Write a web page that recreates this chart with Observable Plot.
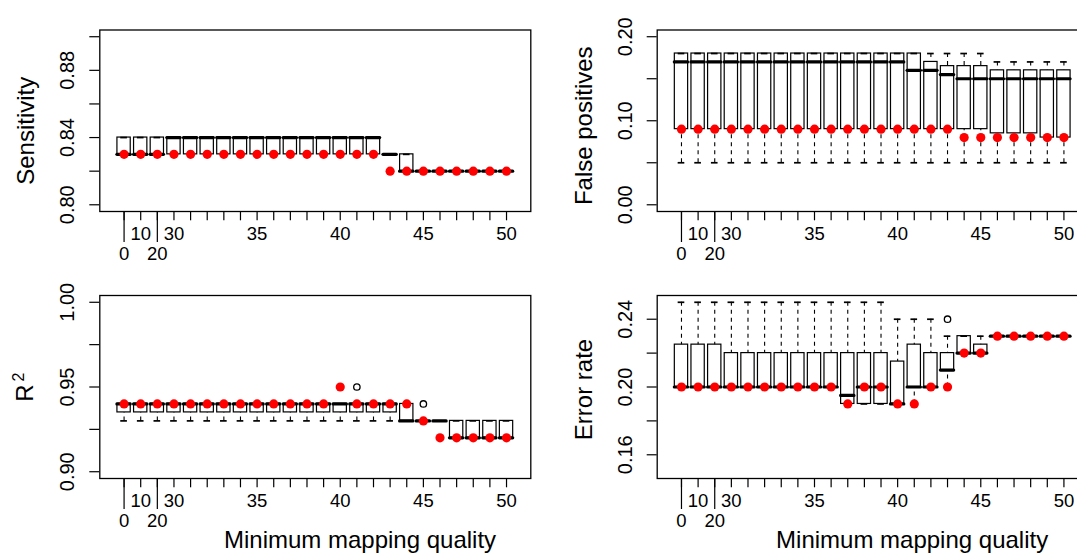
<!DOCTYPE html>
<html><head><meta charset="utf-8">
<script src="https://cdn.jsdelivr.net/npm/d3@7"></script>
<script src="https://cdn.jsdelivr.net/npm/@observablehq/plot@0.6"></script>
<style>
html,body{margin:0;padding:0;background:#fff;overflow:hidden;width:1077px;height:555px;}
#root{position:relative;width:1077px;height:555px;overflow:hidden;background:#fff;}
.panel{position:absolute;}
</style></head><body><div id="root"></div>
<script>
// ---------- data ----------
const categories = ["0","10","20","30","31","32","33","34","35","36","37","38","39","40","41","42","43","44","45","46","47","48","49","50"];
const xLabelsRow1 = ["10","30","35","40","45","50"];
const xLabelsRow2 = ["0","20"];
const longTickCats = ["0","20"];

// Sensitivity
const sensQ1  = [0.83,0.83,0.83,0.83,0.83,0.83,0.83,0.83,0.83,0.83,0.83,0.83,0.83,0.83,0.83,0.83,0.83,0.82,0.82,0.82,0.82,0.82,0.82,0.82];
const sensMed = [0.83,0.83,0.83,0.84,0.84,0.84,0.84,0.84,0.84,0.84,0.84,0.84,0.84,0.84,0.84,0.84,0.83,0.82,0.82,0.82,0.82,0.82,0.82,0.82];
const sensQ3  = [0.84,0.84,0.84,0.84,0.84,0.84,0.84,0.84,0.84,0.84,0.84,0.84,0.84,0.84,0.84,0.84,0.83,0.83,0.82,0.82,0.82,0.82,0.82,0.82];
const sensLo  = [0.83,0.83,0.83,0.83,0.83,0.83,0.83,0.83,0.83,0.83,0.83,0.83,0.83,0.83,0.83,0.83,0.83,0.82,0.82,0.82,0.82,0.82,0.82,0.82];
const sensHi  = [0.84,0.84,0.84,0.84,0.84,0.84,0.84,0.84,0.84,0.84,0.84,0.84,0.84,0.84,0.84,0.84,0.83,0.83,0.82,0.82,0.82,0.82,0.82,0.82];
const sensRed = [0.83,0.83,0.83,0.83,0.83,0.83,0.83,0.83,0.83,0.83,0.83,0.83,0.83,0.83,0.83,0.83,0.82,0.82,0.82,0.82,0.82,0.82,0.82,0.82];
const sensTicks = [0.80,0.82,0.84,0.86,0.88,0.90];
const sensTickLabels = [0.80,0.84,0.88];

// False positives
const fpQ1  = [0.09,0.09,0.09,0.09,0.09,0.09,0.09,0.09,0.09,0.09,0.09,0.09,0.09,0.09,0.09,0.09,0.09,0.09,0.09,0.085,0.085,0.085,0.08,0.08];
const fpMed = [0.17,0.17,0.17,0.17,0.17,0.17,0.17,0.17,0.17,0.17,0.17,0.17,0.17,0.17,0.16,0.16,0.155,0.15,0.15,0.15,0.15,0.15,0.15,0.15];
const fpQ3  = [0.18,0.18,0.18,0.18,0.18,0.18,0.18,0.18,0.18,0.18,0.18,0.18,0.18,0.18,0.18,0.17,0.165,0.165,0.165,0.16,0.16,0.16,0.16,0.16];
const fpLo  = [0.05,0.05,0.05,0.05,0.05,0.05,0.05,0.05,0.05,0.05,0.05,0.05,0.05,0.05,0.05,0.05,0.05,0.05,0.05,0.05,0.05,0.05,0.05,0.05];
const fpHi  = [0.18,0.18,0.18,0.18,0.18,0.18,0.18,0.18,0.18,0.18,0.18,0.18,0.18,0.18,0.18,0.18,0.18,0.18,0.18,0.17,0.17,0.17,0.17,0.17];
const fpRed = [0.09,0.09,0.09,0.09,0.09,0.09,0.09,0.09,0.09,0.09,0.09,0.09,0.09,0.09,0.09,0.09,0.09,0.08,0.08,0.08,0.08,0.08,0.08,0.08];
const fpTicks = [0.00,0.05,0.10,0.15,0.20];
const fpTickLabels = [0.00,0.10,0.20];

// R squared
const r2Q1  = [0.935,0.935,0.935,0.935,0.935,0.935,0.935,0.935,0.935,0.935,0.935,0.935,0.935,0.935,0.935,0.935,0.935,0.93,0.93,0.93,0.92,0.92,0.92,0.92];
const r2Med = [0.94,0.94,0.94,0.94,0.94,0.94,0.94,0.94,0.94,0.94,0.94,0.94,0.94,0.94,0.94,0.94,0.94,0.93,0.93,0.93,0.92,0.92,0.92,0.92];
const r2Q3  = [0.94,0.94,0.94,0.94,0.94,0.94,0.94,0.94,0.94,0.94,0.94,0.94,0.94,0.94,0.94,0.94,0.94,0.94,0.93,0.93,0.93,0.93,0.93,0.93];
const r2Lo  = [0.93,0.93,0.93,0.93,0.93,0.93,0.93,0.93,0.93,0.93,0.93,0.93,0.93,0.93,0.93,0.93,0.93,0.93,0.93,0.93,0.92,0.92,0.92,0.92];
const r2Hi  = [0.94,0.94,0.94,0.94,0.94,0.94,0.94,0.94,0.94,0.94,0.94,0.94,0.94,0.94,0.94,0.94,0.94,0.94,0.93,0.93,0.93,0.93,0.93,0.93];
const r2Red = [0.94,0.94,0.94,0.94,0.94,0.94,0.94,0.94,0.94,0.94,0.94,0.94,0.94,0.95,0.94,0.94,0.94,0.94,0.93,0.92,0.92,0.92,0.92,0.92];
const r2OutCats = ["41","45"];
const r2OutVals = [0.95,0.94];
const r2Ticks = [0.90,0.925,0.95,0.975,1.00];
const r2TickLabels = [0.90,0.95,1.00];

// Error rate
const errQ1  = [0.20,0.20,0.20,0.20,0.20,0.20,0.20,0.20,0.20,0.20,0.19,0.19,0.19,0.19,0.20,0.20,0.21,0.22,0.22,0.23,0.23,0.23,0.23,0.23];
const errMed = [0.20,0.20,0.20,0.20,0.20,0.20,0.20,0.20,0.20,0.20,0.195,0.20,0.20,0.19,0.20,0.20,0.21,0.22,0.22,0.23,0.23,0.23,0.23,0.23];
const errQ3  = [0.225,0.225,0.225,0.22,0.22,0.22,0.22,0.22,0.22,0.22,0.22,0.22,0.22,0.215,0.225,0.22,0.22,0.23,0.225,0.23,0.23,0.23,0.23,0.23];
const errLo  = [0.20,0.20,0.20,0.20,0.20,0.20,0.20,0.20,0.20,0.20,0.19,0.19,0.19,0.19,0.19,0.20,0.20,0.22,0.22,0.23,0.23,0.23,0.23,0.23];
const errHi  = [0.25,0.25,0.25,0.25,0.25,0.25,0.25,0.25,0.25,0.25,0.25,0.25,0.25,0.24,0.24,0.24,0.23,0.23,0.23,0.23,0.23,0.23,0.23,0.23];
const errRed = [0.20,0.20,0.20,0.20,0.20,0.20,0.20,0.20,0.20,0.20,0.19,0.20,0.20,0.19,0.19,0.20,0.20,0.22,0.22,0.23,0.23,0.23,0.23,0.23];
const errOutCats = ["43"];
const errOutVals = [0.24];
const errTicks = [0.16,0.18,0.20,0.22,0.24];
const errTickLabels = [0.16,0.20,0.24];

const xTitle = "Minimum mapping quality";

// ---------- drawing ----------
const FONT = "'Liberation Sans', Arial, Helvetica, sans-serif";
const posOf = c => categories.indexOf(c) + 1;
const positions = categories.map((c, i) => i + 1);
const centered = {textAnchor: "middle", lineAnchor: "middle"};

function makePanel(cfg) {
  const rows = categories.map((c, i) => ({
    pos: i + 1, q1: cfg.q1[i], med: cfg.med[i], q3: cfg.q3[i],
    lo: cfg.lo[i], hi: cfg.hi[i], red: cfg.red[i]
  }));
  const outs = (cfg.outCats || []).map((c, i) => ({pos: posOf(c), v: cfg.outVals[i]}));
  const n = categories.length;
  const xr = n * 0.04;
  const yr = (cfg.ylim[1] - cfg.ylim[0]) * 0.04;
  const half = 0.4, staple = 0.2;
  const fmt = d3.format(".2f");
  const marks = [
    // boxes
    Plot.rect(rows, {x1: d => d.pos - half, x2: d => d.pos + half, y1: "q1", y2: "q3",
      fill: "white", stroke: "black", strokeWidth: 1.2}),
    // medians
    Plot.ruleY(rows, {y: "med", x1: d => d.pos - half, x2: d => d.pos + half,
      stroke: "black", strokeWidth: 3.2, strokeLinecap: "round"}),
    // whiskers
    Plot.ruleX(rows.filter(d => d.hi > d.q3), {x: "pos", y1: "hi", y2: "q3",
      stroke: "black", strokeWidth: 1.1, strokeDasharray: "4,4"}),
    Plot.ruleX(rows.filter(d => d.lo < d.q1), {x: "pos", y1: "lo", y2: "q1",
      stroke: "black", strokeWidth: 1.1, strokeDasharray: "4,4"}),
    // staples
    Plot.ruleY(rows, {y: "hi", x1: d => d.pos - staple, x2: d => d.pos + staple,
      stroke: "black", strokeWidth: 1.7}),
    Plot.ruleY(rows, {y: "lo", x1: d => d.pos - staple, x2: d => d.pos + staple,
      stroke: "black", strokeWidth: 1.7}),
    // outliers
    Plot.dot(outs, {x: "pos", y: "v", r: 3.2, stroke: "black", strokeWidth: 1.3, fill: "none"}),
    // red points
    Plot.dot(rows, {x: "pos", y: "red", r: 4.6, fill: "#ff0000", stroke: "none"}),
    // axes
    Plot.axisY({ticks: cfg.yTicks, tickSize: 10, tickFormat: () => "", label: null, strokeWidth: 1.2}),
    Plot.text(cfg.yLabels, {y: d => d, text: d => fmt(d), frameAnchor: "left", dx: -32,
      rotate: -90, fontSize: 20, ...centered}),
    Plot.axisX({ticks: positions, tickSize: 9.3, tickFormat: () => "", label: null, strokeWidth: 1.2}),
    Plot.axisX({ticks: longTickCats.map(posOf), tickSize: 31, tickFormat: () => "", label: null, strokeWidth: 1.2}),
    Plot.text(xLabelsRow1, {x: posOf, text: d => d, frameAnchor: "bottom", dy: 22.7, fontSize: 18.5, ...centered}),
    Plot.text(xLabelsRow2, {x: posOf, text: d => d, frameAnchor: "bottom", dy: 42.3, fontSize: 18.5, ...centered}),
    // y title
    Plot.text([cfg.yTitle], {text: d => d, frameAnchor: "left", dx: cfg.yTitleDx, dy: cfg.yTitleDy,
      rotate: -90, fontSize: 24, ...centered}),
    Plot.frame({stroke: "black", strokeWidth: 1.3})
  ];
  if (cfg.yTitleSup) {
    marks.push(Plot.text([cfg.yTitleSup], {text: d => d, frameAnchor: "left", dx: cfg.supDx, dy: cfg.supDy,
      rotate: -90, fontSize: 16, ...centered}));
  }
  if (cfg.xTitle) {
    marks.push(Plot.text([cfg.xTitle], {text: d => d, frameAnchor: "bottom", dx: cfg.xTitleDx, dy: cfg.xTitleDy,
      fontSize: 24, ...centered}));
  }
  const svg = Plot.plot({
    width: cfg.width, height: cfg.height,
    marginLeft: cfg.ml, marginRight: cfg.mr, marginTop: cfg.mt, marginBottom: cfg.mb,
    x: {type: "linear", domain: [0.5 - xr, n + 0.5 + xr]},
    y: {type: "linear", domain: [cfg.ylim[0] - yr, cfg.ylim[1] + yr]},
    style: {fontFamily: FONT, fontSize: "19px", color: "black", background: "transparent",
      overflow: "visible", maxWidth: "none"},
    marks
  });
  const div = document.createElement("div");
  div.className = "panel";
  div.style.left = cfg.left + "px";
  div.style.top = cfg.top + "px";
  div.style.width = cfg.width + "px";
  div.style.height = cfg.height + "px";
  div.appendChild(svg);
  document.getElementById("root").appendChild(div);
}

makePanel({q1: sensQ1, med: sensMed, q3: sensQ3, lo: sensLo, hi: sensHi, red: sensRed,
  ylim: [0.80, 0.90], yTicks: sensTicks, yLabels: sensTickLabels,
  yTitle: "Sensitivity", yTitleDx: -73.4, yTitleDy: 10,
  left: 0, top: 0, width: 559, height: 270, ml: 99.3, mr: 28.7, mt: 29.5, mb: 59});

makePanel({q1: fpQ1, med: fpMed, q3: fpQ3, lo: fpLo, hi: fpHi, red: fpRed,
  ylim: [0.00, 0.20], yTicks: fpTicks, yLabels: fpTickLabels,
  yTitle: "False positives", yTitleDx: -72.9, yTitleDy: 5,
  left: 540, top: 0, width: 559, height: 270, ml: 116.7, mr: 11.3, mt: 29.5, mb: 59});

makePanel({q1: r2Q1, med: r2Med, q3: r2Q3, lo: r2Lo, hi: r2Hi, red: r2Red,
  outCats: r2OutCats, outVals: r2OutVals,
  ylim: [0.90, 1.00], yTicks: r2Ticks, yLabels: r2TickLabels,
  yTitle: "R", yTitleDx: -74.3, yTitleDy: 6, yTitleSup: "2", supDx: -81, supDy: -10,
  xTitle: xTitle, xTitleDx: 44.7, xTitleDy: 62,
  left: 0, top: 270, width: 559, height: 285, ml: 99.3, mr: 28.7, mt: 25, mb: 77});

makePanel({q1: errQ1, med: errMed, q3: errQ3, lo: errLo, hi: errHi, red: errRed,
  outCats: errOutCats, outVals: errOutVals,
  ylim: [0.15, 0.25], yTicks: errTicks, yLabels: errTickLabels,
  yTitle: "Error rate", yTitleDx: -72.7, yTitleDy: 2.5,
  xTitle: xTitle, xTitleDx: 39.4, xTitleDy: 62,
  left: 540, top: 270, width: 559, height: 285, ml: 116.7, mr: 11.3, mt: 25, mb: 77});
</script>
</body></html>
